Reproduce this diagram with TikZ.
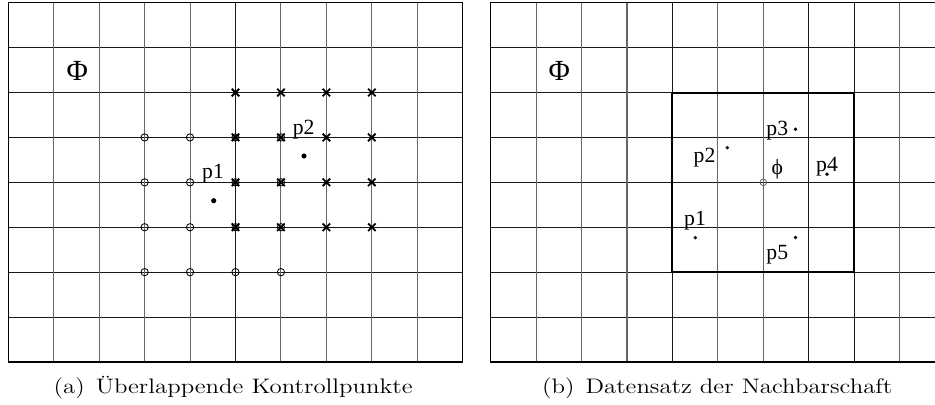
\documentclass[tikz,border=0pt]{standalone}
\usepackage{fontspec}
\newfontfamily\tnr{Liberation Serif}
\usetikzlibrary{shapes.misc}
\begin{document}
\begin{tikzpicture}[x=0.6pt,y=-0.6pt,
  hline/.style={black!90, line width=0.65pt},
  vline/.style={black!60, line width=0.65pt},
  vdark/.style={black!90, line width=0.65pt},
  frame/.style={black, line width=0.7pt},
  thickbox/.style={black, line width=1.2pt},
  circ/.style={circle, draw=black, line width=0.5pt, inner sep=0pt, minimum size=4.4pt},
  ctr/.style={circle, draw=black!60, line width=0.5pt, inner sep=0pt, minimum size=4pt},
  crossmk/.style={cross out, draw=black, line width=1.1pt, inner sep=0pt, minimum size=3.4pt},
  bigdot/.style={circle, fill=black, inner sep=0pt, minimum size=3.1pt},
  smalldot/.style={circle, fill=black, inner sep=0pt, minimum size=2.2pt},
  lbl/.style={font=\tnr\fontsize{13}{15}\selectfont, inner sep=0pt},
  philbl/.style={font=\tnr\fontsize{17.5}{20}\selectfont, inner sep=0pt},
  captxt/.style={font=\fontsize{12.6}{15}\selectfont, inner sep=0pt, xscale=1.18}
]
\useasboundingbox (0,0) rectangle (935,405);
\clip (0,0) rectangle (935,405);
% ---------- left grid ----------
\foreach \j in {0,...,8}
  \draw[hline] (8.3,{2.7+44.91*\j}) -- (462.7,{2.7+44.91*\j});
\foreach \i in {1,2,3,4,6,7,8,9}
  \draw[vline] ({8.3+45.44*\i},2.7) -- ({8.3+45.44*\i},362);
\draw[vdark] ({8.3+45.44*5},2.7) -- ({8.3+45.44*5},362);
\draw[frame] (8.3,2.7) rectangle (462.7,362);
% ---------- right grid ----------
\foreach \j in {0,...,8}
  \draw[hline] (490.7,{2.7+44.91*\j}) -- (944.7,{2.7+44.91*\j});
\foreach \i in {1,2,3,5,6,9}
  \draw[vline] ({490.7+45.44*\i},2.7) -- ({490.7+45.44*\i},362);
\foreach \i in {4,7,8}
  \draw[vdark] ({490.7+45.44*\i},2.7) -- ({490.7+45.44*\i},362);
\draw[frame] (490.7,2.7) rectangle (944.7,362);
\draw[thickbox] ({490.7+45.44*4},{2.7+44.91*2}) rectangle ({490.7+45.44*8},{2.7+44.91*6});
% ---------- Phi labels ----------
\node[philbl] (PhiL) at (77.2,70.7) {Φ};
\node[philbl] (PhiR) at (559.3,70.5) {Φ};
% ---------- left markers ----------
\foreach \i in {3,...,6}
  \foreach \j in {3,...,6}
    \node[circ] (o\i\j) at ({8.3+45.44*\i},{2.7+44.91*\j}) {};
\foreach \i in {5,...,8}
  \foreach \j in {2,...,5}
    \node[crossmk] (x\i\j) at ({8.3+45.44*\i},{2.7+44.91*\j}) {};
\node[bigdot] (dL1) at (213.7,200.7) {};
\node[bigdot] (dL2) at (304,156) {};
\node[lbl] (lL1) at (213,173.8) {p1};
\node[lbl] (lL2) at (303.7,129.2) {p2};
% ---------- right markers ----------
\node[ctr] (phic) at ({490.7+45.44*6},{2.7+44.91*4}) {};
\node[lbl] (phil) at (777.3,169.2) {ϕ};
\node[smalldot] (dR1) at (695.3,237.7) {};
\node[smalldot] (dR2) at (727.3,147.7) {};
\node[smalldot] (dR3) at (795.5,129.3) {};
\node[smalldot] (dR4) at (827,174.3) {};
\node[smalldot] (dR5) at (795.5,237.5) {};
\node[lbl] (lR1) at (695,221) {p1};
\node[lbl] (lR2) at (704.5,157.2) {p2};
\node[lbl] (lR3) at (777.3,131) {p3};
\node[lbl] (lR4) at (827,167) {p4};
\node[lbl] (lR5) at (777.3,254.5) {p5};
% ---------- captions ----------
\node[captxt, anchor=base west] (capa) at (53.3,394) {(a)\hspace{0.45em}Überlappende Kontrollpunkte};
\node[captxt, anchor=base west] (capb) at (541.7,394) {(b)\hspace{0.45em}Datensatz der Nachbarschaft};
\end{tikzpicture}
\end{document}
